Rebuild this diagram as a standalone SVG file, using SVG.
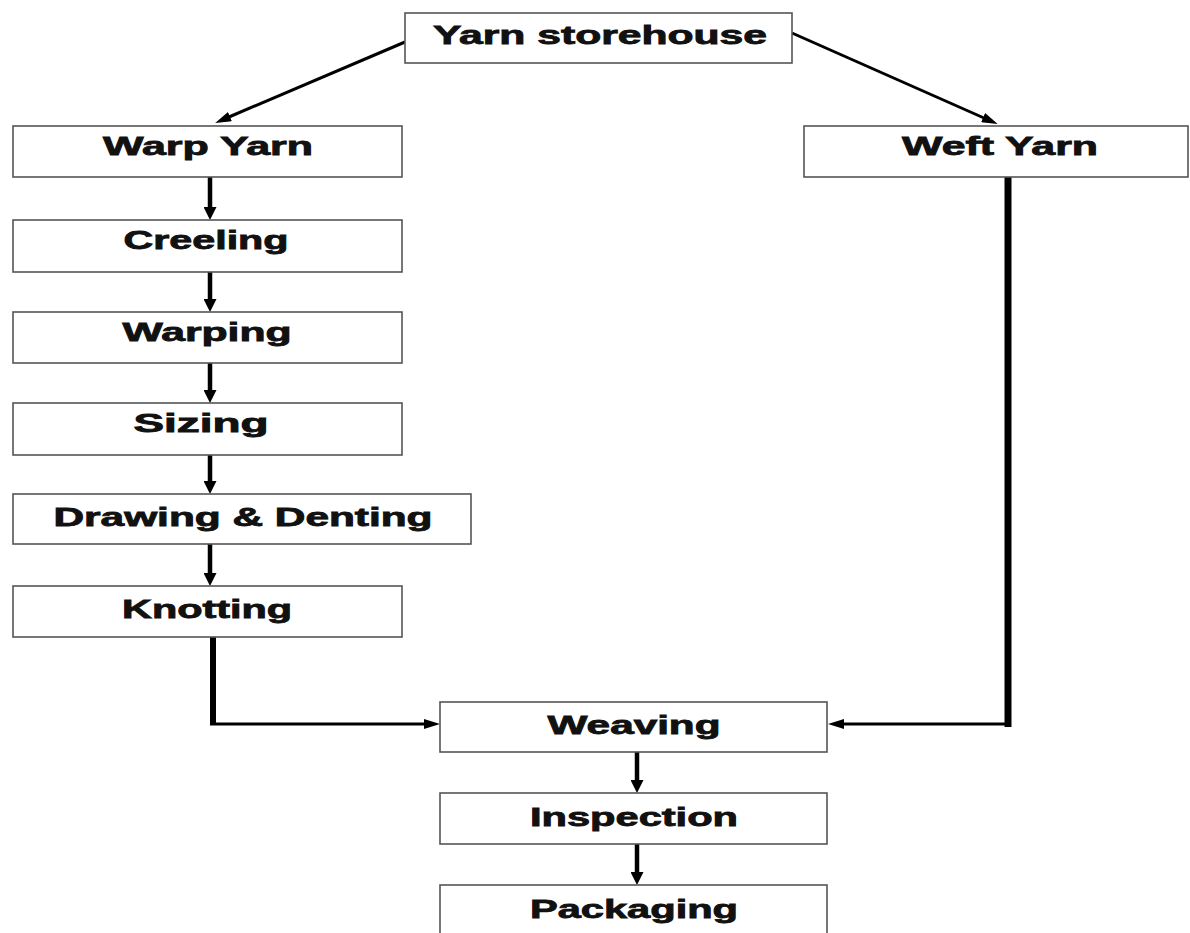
<svg xmlns="http://www.w3.org/2000/svg" width="1190" height="933" viewBox="0 0 1190 933">
<style>
.box{fill:#fff;stroke:#555;stroke-width:1.6}
.lbl{font-family:"Liberation Sans",Arial,sans-serif;font-weight:bold;font-size:25px;fill:#111;stroke:#111;stroke-width:0.8;text-anchor:middle}
.c{stroke:#000;fill:none}
</style>
<defs>
<marker id="ah" markerUnits="userSpaceOnUse" markerWidth="13" markerHeight="13" refX="1" refY="6.5" orient="auto">
<path d="M0,0 L13,6.5 L0,13 z" fill="#000"/>
</marker>
<marker id="ahs" markerUnits="userSpaceOnUse" markerWidth="16" markerHeight="10" refX="1" refY="5" orient="auto">
<path d="M0,0 L16,5 L0,10 z" fill="#000"/>
</marker>
</defs>
<rect width="1190" height="933" fill="#fff"/>
<g id="connectors">
<line class="c" x1="405" y1="42" x2="229" y2="117" stroke-width="3" marker-end="url(#ahs)"/>
<line class="c" x1="792" y1="33" x2="984" y2="118" stroke-width="3" marker-end="url(#ahs)"/>
<line class="c" x1="210" y1="177" x2="210" y2="208" stroke-width="4.5" marker-end="url(#ah)"/>
<line class="c" x1="210" y1="272" x2="210" y2="300" stroke-width="4.5" marker-end="url(#ah)"/>
<line class="c" x1="210" y1="363" x2="210" y2="391" stroke-width="4.5" marker-end="url(#ah)"/>
<line class="c" x1="210" y1="455" x2="210" y2="482" stroke-width="4.5" marker-end="url(#ah)"/>
<line class="c" x1="210" y1="544" x2="210" y2="574" stroke-width="4.5" marker-end="url(#ah)"/>
<line class="c" x1="213" y1="637" x2="213" y2="725" stroke-width="6"/>
<line class="c" x1="210" y1="724" x2="425" y2="724" stroke-width="3" marker-end="url(#ahs)"/>
<line class="c" x1="1008" y1="177" x2="1008" y2="727" stroke-width="7"/>
<line class="c" x1="1011" y1="724" x2="843" y2="724" stroke-width="3" marker-end="url(#ahs)"/>
<line class="c" x1="637" y1="752" x2="637" y2="781" stroke-width="4.5" marker-end="url(#ah)"/>
<line class="c" x1="637" y1="844" x2="637" y2="873" stroke-width="4.5" marker-end="url(#ah)"/>
</g>
<g id="yarn-storehouse"><rect class="box" x="405" y="13" width="387" height="50"/><text class="lbl" x="600" y="44" textLength="334" lengthAdjust="spacingAndGlyphs" font-size="27">Yarn storehouse</text></g>
<g id="warp-yarn"><rect class="box" x="13" y="126" width="389" height="51"/><text class="lbl" x="208" y="155" textLength="210" lengthAdjust="spacingAndGlyphs">Warp Yarn</text></g>
<g id="weft-yarn"><rect class="box" x="804" y="126" width="384" height="51"/><text class="lbl" x="1000" y="155" textLength="196" lengthAdjust="spacingAndGlyphs">Weft Yarn</text></g>
<g id="creeling"><rect class="box" x="13" y="220" width="389" height="52"/><text class="lbl" x="206" y="249" textLength="165" lengthAdjust="spacingAndGlyphs">Creeling</text></g>
<g id="warping"><rect class="box" x="13" y="312" width="389" height="51"/><text class="lbl" x="207" y="341" textLength="169" lengthAdjust="spacingAndGlyphs">Warping</text></g>
<g id="sizing"><rect class="box" x="13" y="403" width="389" height="52"/><text class="lbl" x="201" y="432" textLength="135" lengthAdjust="spacingAndGlyphs">Sizing</text></g>
<g id="drawing-denting"><rect class="box" x="13" y="494" width="458" height="50"/><text class="lbl" x="243" y="526" textLength="379" lengthAdjust="spacingAndGlyphs">Drawing &amp; Denting</text></g>
<g id="knotting"><rect class="box" x="13" y="586" width="389" height="51"/><text class="lbl" x="207" y="618" textLength="170" lengthAdjust="spacingAndGlyphs">Knotting</text></g>
<g id="weaving"><rect class="box" x="440" y="702" width="387" height="50"/><text class="lbl" x="634" y="734" textLength="173" lengthAdjust="spacingAndGlyphs">Weaving</text></g>
<g id="inspection"><rect class="box" x="440" y="793" width="387" height="51"/><text class="lbl" x="634" y="826" textLength="208" lengthAdjust="spacingAndGlyphs">Inspection</text></g>
<g id="packaging"><rect class="box" x="440" y="885" width="387" height="60"/><text class="lbl" x="634" y="918" textLength="208" lengthAdjust="spacingAndGlyphs">Packaging</text></g>
</svg>
